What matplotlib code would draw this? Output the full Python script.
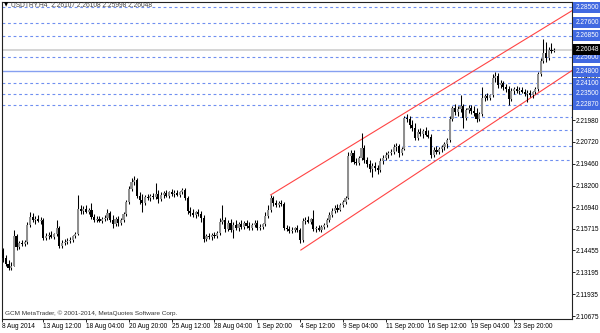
import numpy as np
import matplotlib.pyplot as plt

plt.rcParams['font.family'] = ['Liberation Sans', 'DejaVu Sans']
plt.rcParams['lines.scale_dashes'] = False

# USDTRY H4 candles (bar index 0 = 8 Aug 2014 20:00)
opens = [2.1506, 2.1448, 2.1402, 2.1368, 2.1344, 2.1356, 2.1529, 2.1466, 2.1489, 2.1483,
         2.1495, 2.1593, 2.1639, 2.1621, 2.1627, 2.1616, 2.1621, 2.1518, 2.1529, 2.1535,
         2.1523, 2.1541, 2.1575, 2.1472, 2.1489, 2.1495, 2.1500, 2.1506, 2.1529, 2.1541,
         2.1685, 2.1673, 2.1685, 2.1668, 2.1679, 2.1639, 2.1621, 2.1627, 2.1616, 2.1627,
         2.1633, 2.1662, 2.1621, 2.1598, 2.1627, 2.1604, 2.1621, 2.1656, 2.1725, 2.1800,
         2.1841, 2.1852, 2.1760, 2.1737, 2.1719, 2.1754, 2.1748, 2.1760, 2.1754, 2.1771,
         2.1743, 2.1766, 2.1777, 2.1760, 2.1783, 2.1771, 2.1777, 2.1766, 2.1783, 2.1795,
         2.1748, 2.1673, 2.1662, 2.1650, 2.1668, 2.1656, 2.1633, 2.1512, 2.1529, 2.1523,
         2.1535, 2.1529, 2.1547, 2.1610, 2.1621, 2.1570, 2.1604, 2.1564, 2.1593, 2.1575,
         2.1598, 2.1581, 2.1604, 2.1587, 2.1575, 2.1593, 2.1604, 2.1575, 2.1581, 2.1598,
         2.1645, 2.1679, 2.1748, 2.1719, 2.1708, 2.1719, 2.1714, 2.1575, 2.1570, 2.1558,
         2.1564, 2.1575, 2.1564, 2.1506, 2.1616, 2.1621, 2.1610, 2.1627, 2.1570, 2.1575,
         2.1564, 2.1581, 2.1593, 2.1621, 2.1650, 2.1673, 2.1691, 2.1679, 2.1708, 2.1725,
         2.1748, 2.1991, 2.2008, 2.1956, 2.1950, 2.1979, 2.2037, 2.1968, 2.1945, 2.1916,
         2.1933, 2.1922, 2.1910, 2.1962, 2.1979, 2.1997, 2.2008, 2.2014, 2.2043, 2.2049,
         2.2008, 2.2031, 2.2210, 2.2204, 2.2170, 2.2152, 2.2095, 2.2129, 2.2118, 2.2135,
         2.2112, 2.2100, 2.1997, 2.2025, 2.2014, 2.2031, 2.2043, 2.2060, 2.2083, 2.2204,
         2.2268, 2.2245, 2.2262, 2.2279, 2.2210, 2.2256, 2.2268, 2.2250, 2.2239, 2.2204,
         2.2233, 2.2325, 2.2337, 2.2325, 2.2343, 2.2441, 2.2452, 2.2400, 2.2412, 2.2389,
         2.2377, 2.2320, 2.2366, 2.2377, 2.2366, 2.2372, 2.2360, 2.2348, 2.2354, 2.2343,
         2.2360, 2.2377, 2.2464, 2.2539, 2.2585, 2.2556, 2.2602, 2.2597]
highs = [2.1523, 2.1460, 2.1420, 2.1391, 2.1379, 2.1564, 2.1541, 2.1500, 2.1506, 2.1506,
         2.1610, 2.1668, 2.1662, 2.1645, 2.1650, 2.1639, 2.1633, 2.1547, 2.1552, 2.1558,
         2.1547, 2.1621, 2.1587, 2.1506, 2.1512, 2.1518, 2.1523, 2.1535, 2.1552, 2.1766,
         2.1708, 2.1702, 2.1708, 2.1691, 2.1719, 2.1656, 2.1645, 2.1645, 2.1639, 2.1650,
         2.1685, 2.1673, 2.1650, 2.1639, 2.1645, 2.1633, 2.1668, 2.1737, 2.1818, 2.1864,
         2.1875, 2.1864, 2.1783, 2.1771, 2.1766, 2.1771, 2.1771, 2.1777, 2.1835, 2.1795,
         2.1783, 2.1789, 2.1795, 2.1789, 2.1800, 2.1795, 2.1795, 2.1789, 2.1806, 2.1806,
         2.1760, 2.1697, 2.1685, 2.1673, 2.1685, 2.1673, 2.1650, 2.1541, 2.1547, 2.1547,
         2.1552, 2.1558, 2.1633, 2.1708, 2.1639, 2.1621, 2.1627, 2.1610, 2.1621, 2.1610,
         2.1621, 2.1616, 2.1621, 2.1610, 2.1604, 2.1621, 2.1621, 2.1598, 2.1604, 2.1668,
         2.1708, 2.1766, 2.1760, 2.1737, 2.1731, 2.1737, 2.1725, 2.1593, 2.1587, 2.1581,
         2.1581, 2.1593, 2.1575, 2.1633, 2.1639, 2.1645, 2.1633, 2.1679, 2.1587, 2.1593,
         2.1593, 2.1604, 2.1633, 2.1668, 2.1691, 2.1708, 2.1714, 2.1719, 2.1737, 2.1760,
         2.2014, 2.2025, 2.2025, 2.1979, 2.1991, 2.2123, 2.2054, 2.1985, 2.1968, 2.1950,
         2.1956, 2.1939, 2.1979, 2.1997, 2.2014, 2.2020, 2.2031, 2.2060, 2.2066, 2.2060,
         2.2043, 2.2222, 2.2233, 2.2222, 2.2198, 2.2181, 2.2147, 2.2152, 2.2147, 2.2158,
         2.2141, 2.2118, 2.2043, 2.2049, 2.2043, 2.2054, 2.2072, 2.2095, 2.2222, 2.2279,
         2.2291, 2.2279, 2.2343, 2.2291, 2.2268, 2.2285, 2.2285, 2.2279, 2.2268, 2.2245,
         2.2389, 2.2348, 2.2354, 2.2348, 2.2464, 2.2475, 2.2470, 2.2429, 2.2424, 2.2406,
         2.2395, 2.2383, 2.2389, 2.2395, 2.2389, 2.2389, 2.2377, 2.2372, 2.2372, 2.2366,
         2.2389, 2.2475, 2.2556, 2.2666, 2.2649, 2.2620, 2.2643, 2.2614]
lows = [2.1437, 2.1379, 2.1356, 2.1333, 2.1333, 2.1356, 2.1448, 2.1454, 2.1472, 2.1472,
        2.1483, 2.1581, 2.1610, 2.1598, 2.1610, 2.1598, 2.1506, 2.1506, 2.1512, 2.1518,
        2.1512, 2.1529, 2.1460, 2.1460, 2.1477, 2.1483, 2.1489, 2.1495, 2.1518, 2.1535,
        2.1656, 2.1656, 2.1662, 2.1656, 2.1627, 2.1610, 2.1610, 2.1610, 2.1604, 2.1616,
        2.1621, 2.1610, 2.1575, 2.1587, 2.1587, 2.1593, 2.1610, 2.1645, 2.1714, 2.1789,
        2.1823, 2.1748, 2.1714, 2.1668, 2.1708, 2.1737, 2.1731, 2.1743, 2.1743, 2.1719,
        2.1731, 2.1748, 2.1754, 2.1748, 2.1760, 2.1754, 2.1760, 2.1754, 2.1771, 2.1737,
        2.1656, 2.1645, 2.1639, 2.1633, 2.1645, 2.1610, 2.1495, 2.1500, 2.1512, 2.1506,
        2.1518, 2.1518, 2.1535, 2.1598, 2.1552, 2.1558, 2.1552, 2.1518, 2.1564, 2.1558,
        2.1570, 2.1570, 2.1575, 2.1564, 2.1564, 2.1581, 2.1564, 2.1564, 2.1570, 2.1587,
        2.1633, 2.1668, 2.1702, 2.1697, 2.1697, 2.1702, 2.1564, 2.1558, 2.1547, 2.1547,
        2.1552, 2.1552, 2.1489, 2.1495, 2.1598, 2.1604, 2.1598, 2.1558, 2.1552, 2.1558,
        2.1552, 2.1570, 2.1581, 2.1610, 2.1639, 2.1662, 2.1668, 2.1673, 2.1697, 2.1714,
        2.1743, 2.1956, 2.1945, 2.1939, 2.1939, 2.1968, 2.1950, 2.1927, 2.1898, 2.1870,
        2.1904, 2.1887, 2.1898, 2.1945, 2.1968, 2.1979, 2.1997, 2.2002, 2.2020, 2.1985,
        2.1997, 2.2025, 2.2187, 2.2152, 2.2135, 2.2083, 2.2083, 2.2106, 2.2095, 2.2106,
        2.2095, 2.1979, 2.1985, 2.2002, 2.2002, 2.2014, 2.2025, 2.2037, 2.2072, 2.2193,
        2.2227, 2.2222, 2.2245, 2.2152, 2.2198, 2.2239, 2.2233, 2.2222, 2.2187, 2.2193,
        2.2222, 2.2308, 2.2314, 2.2314, 2.2331, 2.2418, 2.2383, 2.2383, 2.2372, 2.2360,
        2.2285, 2.2308, 2.2348, 2.2354, 2.2348, 2.2354, 2.2337, 2.2302, 2.2331, 2.2325,
        2.2348, 2.2366, 2.2452, 2.2528, 2.2533, 2.2545, 2.2585, 2.2591]
closes = [2.1448, 2.1402, 2.1368, 2.1344, 2.1356, 2.1529, 2.1466, 2.1489, 2.1483, 2.1495,
          2.1593, 2.1639, 2.1621, 2.1627, 2.1616, 2.1621, 2.1518, 2.1529, 2.1535, 2.1523,
          2.1541, 2.1575, 2.1472, 2.1489, 2.1495, 2.1500, 2.1506, 2.1529, 2.1541, 2.1685,
          2.1673, 2.1685, 2.1668, 2.1679, 2.1639, 2.1621, 2.1627, 2.1616, 2.1627, 2.1633,
          2.1662, 2.1621, 2.1598, 2.1627, 2.1604, 2.1621, 2.1656, 2.1725, 2.1800, 2.1841,
          2.1852, 2.1760, 2.1737, 2.1719, 2.1754, 2.1748, 2.1760, 2.1754, 2.1771, 2.1743,
          2.1766, 2.1777, 2.1760, 2.1783, 2.1771, 2.1777, 2.1766, 2.1783, 2.1795, 2.1748,
          2.1673, 2.1662, 2.1650, 2.1668, 2.1656, 2.1633, 2.1512, 2.1529, 2.1523, 2.1535,
          2.1529, 2.1547, 2.1610, 2.1621, 2.1570, 2.1604, 2.1564, 2.1593, 2.1575, 2.1598,
          2.1581, 2.1604, 2.1587, 2.1575, 2.1593, 2.1604, 2.1575, 2.1581, 2.1598, 2.1645,
          2.1679, 2.1748, 2.1719, 2.1708, 2.1719, 2.1714, 2.1575, 2.1570, 2.1558, 2.1564,
          2.1575, 2.1564, 2.1506, 2.1616, 2.1621, 2.1610, 2.1627, 2.1570, 2.1575, 2.1564,
          2.1581, 2.1593, 2.1621, 2.1650, 2.1673, 2.1691, 2.1679, 2.1708, 2.1725, 2.1748,
          2.1991, 2.2008, 2.1956, 2.1950, 2.1979, 2.2037, 2.1968, 2.1945, 2.1916, 2.1933,
          2.1922, 2.1910, 2.1962, 2.1979, 2.1997, 2.2008, 2.2014, 2.2043, 2.2049, 2.2008,
          2.2031, 2.2210, 2.2204, 2.2170, 2.2152, 2.2095, 2.2129, 2.2118, 2.2135, 2.2112,
          2.2100, 2.1997, 2.2025, 2.2014, 2.2031, 2.2043, 2.2060, 2.2083, 2.2204, 2.2268,
          2.2245, 2.2262, 2.2279, 2.2210, 2.2256, 2.2268, 2.2250, 2.2239, 2.2204, 2.2233,
          2.2325, 2.2337, 2.2325, 2.2343, 2.2441, 2.2452, 2.2400, 2.2412, 2.2389, 2.2377,
          2.2320, 2.2366, 2.2377, 2.2366, 2.2372, 2.2360, 2.2348, 2.2354, 2.2343, 2.2360,
          2.2377, 2.2464, 2.2539, 2.2585, 2.2556, 2.2602, 2.2597, 2.26048]

# horizontal levels and channel drawn on the chart
levels_dashed = [2.28500, 2.27600, 2.26850, 2.25600, 2.24100, 2.23500, 2.22870]
level_solid = 2.24800
bid = 2.26048
short_levels = [2.2217, 2.2141, 2.2049, 2.1965]
short_starts = [151, 161, 150, 143]
upper_t, upper_p = [101, 213.8], [2.1766, 2.2830]
lower_t, lower_p = [112.3, 213.8], [2.1448, 2.2485]

ytick_vals = [2.10675, 2.11935, 2.13195, 2.14455, 2.15715, 2.16940, 2.18200, 2.19460,
              2.20720, 2.21980, 2.23240, 2.24500, 2.25760, 2.27020, 2.28280]
xtick_pos = [0.6, 16, 32, 48, 64, 80, 96, 112, 128, 144, 160, 176, 192]
xtick_labels = ['8 Aug 2014', '13 Aug 12:00', '18 Aug 04:00', '20 Aug 20:00', '25 Aug 12:00',
                '28 Aug 04:00', '1 Sep 20:00', '4 Sep 12:00', '9 Sep 04:00', '11 Sep 20:00',
                '16 Sep 12:00', '19 Sep 04:00', '23 Sep 20:00']

o = np.array(opens)
h = np.array(highs)
l = np.array(lows)
c = np.array(closes)
idx = np.arange(len(c))
up = c >= o

fig = plt.figure(figsize=(6, 3.33), dpi=100)
ax = fig.add_axes([2 / 600, 14 / 333, 570.3 / 600, 317.5 / 333])

blue = '#4169e1'
dash_col = '#6f8ff0'
for v in levels_dashed:
    ax.axhline(v, color=dash_col, lw=0.8, dashes=(2, 2), zorder=1)
for v, s in zip(short_levels, short_starts):
    ax.hlines(v, s, 213.8, color=dash_col, lw=0.8, linestyles=[(0, (2, 2))], zorder=1)
ax.axhline(level_solid, color='#86a0f0', lw=1.0, zorder=1)
ax.axhline(bid, color='#d2d2d2', lw=1.3, zorder=1)

ax.plot(upper_t, upper_p, color='#ff4444', lw=0.8, zorder=2)
ax.plot(lower_t, lower_p, color='#ff4444', lw=0.8, zorder=2)

# candles
ax.vlines(idx, l, h, color='black', lw=0.75, zorder=3)
body = np.maximum(np.abs(c - o), 0.00025)
ax.bar(idx[up], body[up], bottom=np.minimum(o, c)[up], width=0.8, color='#8f8f8f', lw=0, zorder=4)
ax.bar(idx[~up], body[~up], bottom=np.minimum(o, c)[~up], width=0.8, color='black', lw=0, zorder=4)

ax.set_xlim(0.56, 213.8)
ax.set_ylim(2.10502, 2.28821)

ax.yaxis.tick_right()
ax.set_yticks(ytick_vals)
ax.set_yticklabels([f'{v:.5f}' for v in ytick_vals])
ax.set_xticks(xtick_pos)
ax.set_xticklabels(xtick_labels, ha='left')
ax.tick_params(axis='both', direction='out', length=1.8, width=0.6, labelsize=4.7, pad=0.8, colors='black')
for sp in ax.spines.values():
    sp.set_color('#222222')
    sp.set_linewidth(0.8)

# value boxes on the price scale
ytr = ax.get_yaxis_transform()
for v in levels_dashed + [level_solid]:
    ax.annotate(f'{v:.5f}', xy=(1, v), xycoords=ytr, xytext=(2.2, 0), textcoords='offset points',
                va='center', ha='left', fontsize=4.7, color='white', annotation_clip=False,
                bbox=dict(boxstyle='square,pad=0.3', fc=blue, ec='none'), zorder=10)
ax.annotate(f'{bid:.5f}', xy=(1, bid), xycoords=ytr, xytext=(2.2, 0), textcoords='offset points',
            va='center', ha='left', fontsize=4.7, color='white', annotation_clip=False,
            bbox=dict(boxstyle='square,pad=0.3', fc='black', ec='none'), zorder=10)

fig.text(4 / 600, 1 - 5 / 333, '\u25bc', fontsize=4, va='center', ha='left', family='DejaVu Sans')
fig.text(11 / 600, 1 - 5 / 333, 'USDTRY,H4  2.26107 2.26108 2.25998 2.26048',
         fontsize=4.8, va='center', ha='left', color='#444444')
fig.text(5 / 600, 1 - 313 / 333, 'GCM MetaTrader, \u00a9 2001-2014, MetaQuotes Software Corp.',
         fontsize=4.6, va='center', ha='left', color='#333333')

fig.savefig('out.png', dpi=100)
